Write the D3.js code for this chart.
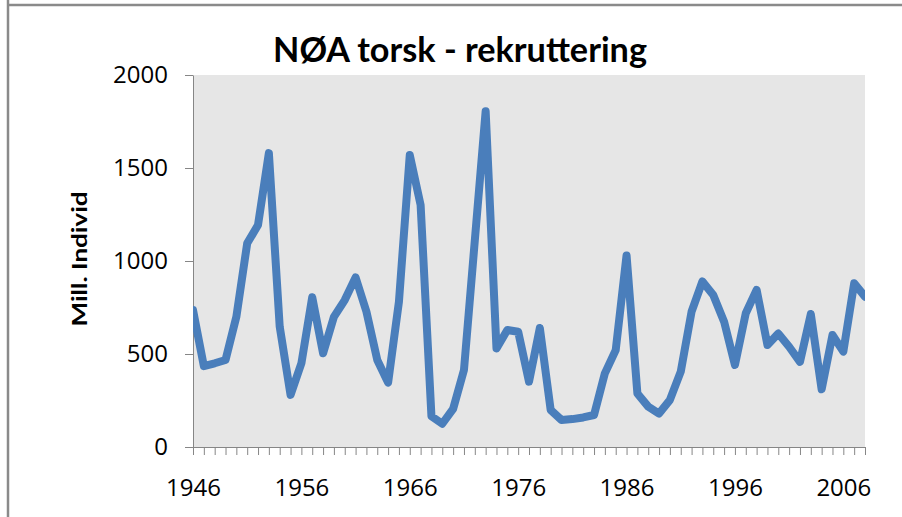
<!DOCTYPE html>
<html>
<head>
<meta charset="utf-8">
<script src="https://cdn.jsdelivr.net/npm/d3@7.9.0/dist/d3.min.js"></script>
<style>
  html, body { margin: 0; padding: 0; background: #fff; }
  svg { display: block; }
  .axis path, .axis line { stroke: #868686; }
  .axis text { font-family: "Open Sans", sans-serif; fill: #000; }
</style>
</head>
<body>
<div id="chart"></div>
<script>
const title  = 'NØA torsk - rekruttering';
const yTitle = 'Mill.  Individ';

const years = [
  1946, 1947, 1948, 1949, 1950, 1951, 1952, 1953, 1954, 1955,
  1956, 1957, 1958, 1959, 1960, 1961, 1962, 1963, 1964, 1965,
  1966, 1967, 1968, 1969, 1970, 1971, 1972, 1973, 1974, 1975,
  1976, 1977, 1978, 1979, 1980, 1981, 1982, 1983, 1984, 1985,
  1986, 1987, 1988, 1989, 1990, 1991, 1992, 1993, 1994, 1995,
  1996, 1997, 1998, 1999, 2000, 2001, 2002, 2003, 2004, 2005,
  2006, 2007, 2008
];

// recruitment, million individuals
const recruits = [
   736,  435,  450,  468,  700, 1095, 1194, 1580,  647,  280,
   450,  805,  504,  700,  790,  912,  728,  468,  346,  781,
  1570, 1301,  165,  125,  205,  414, 1110, 1805,  530,  629,
   620,  351,  640,  199,  145,  150,  159,  172,  396,  521,
  1030,  288,  217,  180,  253,  405,  728,  890,  817,  674,
   441,  719,  845,  548,  610,  539,  458,  715,  310,  602,
   513,  880,  808
];

const yTicks      = [0, 500, 1000, 1500, 2000];
const xLabelYears = [1946, 1956, 1966, 1976, 1986, 1996, 2006];

const W = 902, H = 517;
const plot = {x0: 193, x1: 865, y0: 447, y1: 75};

const svg = d3.select('#chart').append('svg')
  .attr('width', W).attr('height', H);

// outer frame (top + left edges)
svg.append('line').attr('x1', 8).attr('x2', 8).attr('y1', 0).attr('y2', H)
  .attr('stroke', '#8a8a8a').attr('stroke-width', 2.5);
svg.append('line').attr('x1', 8).attr('x2', W).attr('y1', 5).attr('y2', 5)
  .attr('stroke', '#8a8a8a').attr('stroke-width', 2.5);

const x = d3.scaleLinear()
  .domain([years[0], years[years.length - 1]])
  .range([plot.x0, plot.x1]);

const y = d3.scaleLinear()
  .domain([0, 2000])
  .range([plot.y0, plot.y1]);

svg.append('rect')
  .attr('x', plot.x0).attr('y', plot.y1)
  .attr('width', plot.x1 - plot.x0).attr('height', plot.y0 - plot.y1)
  .attr('fill', '#e6e6e6');

svg.append('clipPath').attr('id', 'plotclip')
  .append('rect')
  .attr('x', plot.x0).attr('y', plot.y1 - 10)
  .attr('width', plot.x1 - plot.x0).attr('height', plot.y0 - plot.y1 + 10);

// y axis
svg.append('g')
  .attr('class', 'axis')
  .attr('transform', `translate(${plot.x0},0)`)
  .call(d3.axisLeft(y).tickValues(yTicks).tickSize(8).tickSizeOuter(0).tickPadding(17)
    .tickFormat(d3.format('d')))
  .call(g => g.selectAll('text').style('font-size', '24px'));

// x axis, one tick per year
svg.append('g')
  .attr('class', 'axis')
  .attr('transform', `translate(0,${plot.y0})`)
  .call(d3.axisBottom(x).tickValues(years).tickSize(8).tickSizeOuter(0).tickPadding(24)
    .tickFormat(d => xLabelYears.includes(d) ? String(d) : ''))
  .call(g => g.selectAll('text').style('font-size', '24px'));

const line = d3.line()
  .x((d, i) => x(years[i]))
  .y(d => y(d));

svg.append('path')
  .datum(recruits)
  .attr('clip-path', 'url(#plotclip)')
  .attr('d', line)
  .attr('fill', 'none')
  .attr('stroke', '#4a7ebb')
  .attr('stroke-width', 8)
  .attr('stroke-linejoin', 'round')
  .attr('stroke-linecap', 'round');

svg.append('text')
  .attr('x', 460).attr('y', 61.5)
  .attr('text-anchor', 'middle')
  .attr('textLength', 374).attr('lengthAdjust', 'spacingAndGlyphs')
  .style('font-family', 'Lato, "Open Sans", sans-serif')
  .style('font-weight', 'bold')
  .style('font-size', '34px')
  .text(title);

svg.append('text')
  .attr('transform', 'translate(87,259) rotate(-90)')
  .attr('text-anchor', 'middle')
  .attr('textLength', 135).attr('lengthAdjust', 'spacingAndGlyphs')
  .style('font-family', 'Lato, "Open Sans", sans-serif')
  .style('font-weight', 'bold')
  .style('font-size', '21px')
  .text(yTitle);
</script>
</body>
</html>
